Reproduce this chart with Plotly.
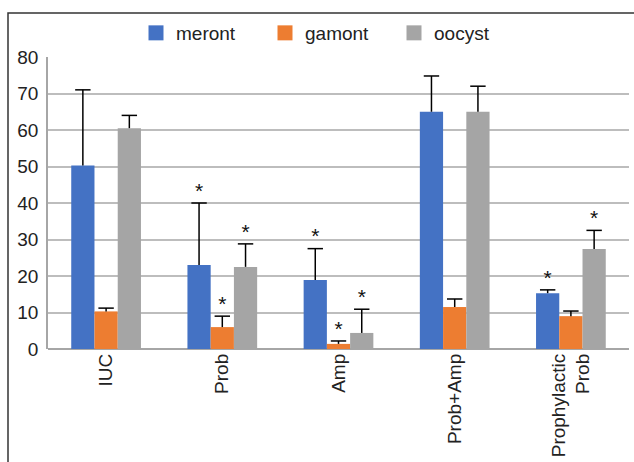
import plotly.graph_objects as go

categories = ["IUC", "Prob", "Amp", "Prob+Amp", "Prophylactic<br>Prob"]
series_names = ["meront", "gamont", "oocyst"]
meront = [50.3, 23.0, 18.9, 65.0, 15.3]
gamont = [10.3, 6.0, 1.4, 11.5, 9.0]
oocyst = [60.5, 22.5, 4.4, 65.0, 27.4]
meront_err = [20.7, 17.0, 8.6, 9.8, 0.9]
gamont_err = [0.9, 3.0, 0.8, 2.2, 1.4]
oocyst_err = [3.5, 6.3, 6.5, 7.0, 5.1]
# significance flags (asterisks)
meront_sig = [False, True, True, False, True]
gamont_sig = [False, True, True, False, False]
oocyst_sig = [False, True, True, False, True]
y_ticks = [0, 10, 20, 30, 40, 50, 60, 70, 80]

colors = ["#4472C4", "#ED7D31", "#A5A5A5"]
values = [meront, gamont, oocyst]
errs = [meront_err, gamont_err, oocyst_err]
sigs = [meront_sig, gamont_sig, oocyst_sig]

FONT = "Liberation Sans, Arial, sans-serif"
BAR_W = 0.2
offsets = [-BAR_W, 0.0, BAR_W]
cat_pos = list(range(len(categories)))

fig = go.Figure()
for name, vals, col, off in zip(series_names, values, colors, offsets):
    fig.add_trace(go.Bar(
        name=name, x=[p + off for p in cat_pos], y=vals, width=BAR_W,
        marker=dict(color=col, line=dict(width=0)), showlegend=False,
    ))

# error bars (upper only)
for vals, err, off in zip(values, errs, offsets):
    xs, ys = [], []
    for p, v, e in zip(cat_pos, vals, err):
        xs += [p + off, p + off, None]
        ys += [v, v + e, None]
    fig.add_trace(go.Scatter(x=xs, y=ys, mode="lines", line=dict(color="black", width=1.5),
                             showlegend=False, hoverinfo="skip"))
    fig.add_trace(go.Scatter(x=[p + off for p in cat_pos], y=[v + e for v, e in zip(vals, err)],
                             mode="markers", showlegend=False, hoverinfo="skip",
                             marker=dict(symbol="line-ew", size=11,
                                         line=dict(color="black", width=1.5))))

# asterisks
for vals, err, sig, off in zip(values, errs, sigs, offsets):
    xs = [p + off for p, s in zip(cat_pos, sig) if s]
    ys = [v + e for v, e, s in zip(vals, err, sig) if s]
    fig.add_trace(go.Scatter(x=xs, y=ys, mode="text", text=["*"] * len(xs),
                             textposition="top center", showlegend=False, hoverinfo="skip",
                             textfont=dict(family=FONT, size=21, color="#111")))

# legend entries
for name, col in zip(series_names, colors):
    fig.add_trace(go.Scatter(x=[None], y=[None], mode="markers", name=name,
                             marker=dict(symbol="square", size=15, color=col)))

W, H = 634, 462
ml, mr, mt, mb = 48, 5, 57, 113
pw = W - ml - mr
ph = H - mt - mb

fig.update_layout(
    width=W, height=H,
    margin=dict(l=ml, r=mr, t=mt, b=mb),
    paper_bgcolor="white", plot_bgcolor="white",
    barmode="overlay",
    font=dict(family=FONT, size=19, color="#222"),
    legend=dict(orientation="h", x=(136 - ml) / pw, y=1 + (mt - 33) / ph,
                xanchor="left", yanchor="middle", bgcolor="rgba(0,0,0,0)",
                font=dict(family=FONT, size=19, color="#222"),
                itemwidth=30, entrywidth=84, entrywidthmode="pixels",
                traceorder="normal"),
    xaxis=dict(range=[-0.5, len(categories) - 0.5], tickvals=cat_pos, ticktext=categories,
               tickangle=-90, showline=False, ticks="", showgrid=False, zeroline=False,
               automargin=False,
               tickfont=dict(family=FONT, size=19, color="#222")),
    yaxis=dict(range=[0, 80], tickvals=y_ticks, showgrid=True, gridcolor="#bdbdbd", gridwidth=1.5,
               showline=True, linecolor="#a6a6a6", linewidth=1.5, zeroline=True,
               zerolinecolor="#a6a6a6", zerolinewidth=1.5, ticks="", ticklen=0,
               automargin=False, ticklabelstandoff=4,
               tickfont=dict(family=FONT, size=19, color="#222")),
    shapes=[
        dict(type="rect", xref="paper", yref="paper", layer="above",
             x0=(8 - ml) / pw, x1=1 + (mr + 20) / pw,
             y0=-(mb + 20) / ph, y1=1 + (mt - 13) / ph,
             line=dict(color="#333333", width=1.5), fillcolor="rgba(0,0,0,0)"),
    ],
)

fig.write_html("out.html", config={"displayModeBar": False},
               post_script="document.body.style.margin='0';document.body.style.overflow='hidden';")
